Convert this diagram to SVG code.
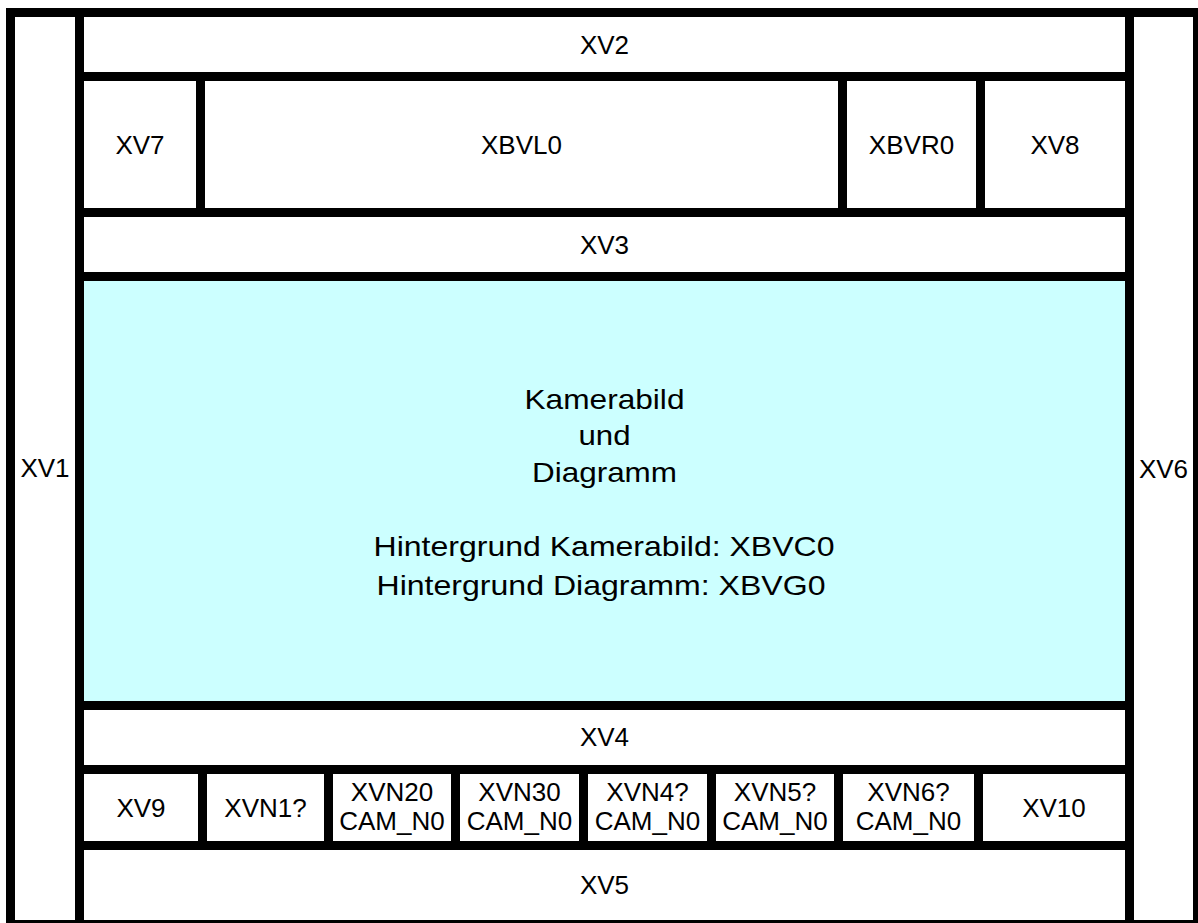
<svg xmlns="http://www.w3.org/2000/svg" width="1198" height="923" viewBox="0 0 1198 923">
<style>
.cell{fill:#ffffff;}
.cam{fill:#ccffff;}
.t{font-family:"Liberation Sans",Arial,sans-serif;font-size:26px;fill:#000;text-anchor:middle;}
.c{font-family:"Liberation Sans",Arial,sans-serif;font-size:28px;fill:#000;text-anchor:middle;}
</style>
<rect x="0" y="0" width="1198" height="923" fill="#ffffff"/>
<rect id="frame" x="6" y="8" width="1200" height="925" fill="#000000"/>
<g id="XV1"><rect class="cell" x="15" y="17" width="60" height="903"/><text class="t" x="45" y="477">XV1</text></g>
<g id="XV6"><rect class="cell" x="1134" y="17" width="59" height="903"/><text class="t" x="1163.5" y="477.5">XV6</text></g>
<g id="XV2"><rect class="cell" x="84" y="17" width="1041" height="55"/><text class="t" x="604.5" y="54">XV2</text></g>
<g id="XV7"><rect class="cell" x="84" y="81" width="112" height="127"/><text class="t" x="140" y="154">XV7</text></g>
<g id="XBVL0"><rect class="cell" x="205" y="81" width="633" height="127"/><text class="t" x="521.5" y="154">XBVL0</text></g>
<g id="XBVR0"><rect class="cell" x="847" y="81" width="129" height="127"/><text class="t" x="911.5" y="154">XBVR0</text></g>
<g id="XV8"><rect class="cell" x="985" y="81" width="140" height="127"/><text class="t" x="1055" y="154">XV8</text></g>
<g id="XV3"><rect class="cell" x="84" y="217" width="1041" height="55"/><text class="t" x="604.5" y="254">XV3</text></g>
<g id="camera"><rect class="cam" x="84" y="281" width="1041" height="420"/>
<text class="c" x="604.5" y="409" textLength="160" lengthAdjust="spacingAndGlyphs">Kamerabild</text>
<text class="c" x="604.5" y="445" textLength="52" lengthAdjust="spacingAndGlyphs">und</text>
<text class="c" x="604.5" y="482" textLength="145" lengthAdjust="spacingAndGlyphs">Diagramm</text>
<text class="c" x="604" y="556" textLength="461" lengthAdjust="spacingAndGlyphs">Hintergrund Kamerabild: XBVC0</text>
<text class="c" x="601" y="595" textLength="449" lengthAdjust="spacingAndGlyphs">Hintergrund Diagramm: XBVG0</text>
</g>
<g id="XV4"><rect class="cell" x="84" y="710" width="1041" height="55"/><text class="t" x="604.5" y="746">XV4</text></g>
<g id="XV9"><rect class="cell" x="84" y="774" width="114" height="67"/><text class="t" x="141" y="816.5">XV9</text></g>
<g id="XVN1"><rect class="cell" x="207" y="774" width="117" height="67"/><text class="t" x="265.5" y="816.5">XVN1?</text></g>
<g id="XVN20"><rect class="cell" x="333" y="774" width="118" height="67"/><text class="t" x="392" y="801">XVN20</text><text class="t" x="392" y="830">CAM_N0</text></g>
<g id="XVN30"><rect class="cell" x="460" y="774" width="119" height="67"/><text class="t" x="519.5" y="801">XVN30</text><text class="t" x="519.5" y="830">CAM_N0</text></g>
<g id="XVN4"><rect class="cell" x="588" y="774" width="119" height="67"/><text class="t" x="647.5" y="801">XVN4?</text><text class="t" x="647.5" y="830">CAM_N0</text></g>
<g id="XVN5"><rect class="cell" x="716" y="774" width="118" height="67"/><text class="t" x="775" y="801">XVN5?</text><text class="t" x="775" y="830">CAM_N0</text></g>
<g id="XVN6"><rect class="cell" x="843" y="774" width="131" height="67"/><text class="t" x="908.5" y="801">XVN6?</text><text class="t" x="908.5" y="830">CAM_N0</text></g>
<g id="XV10"><rect class="cell" x="983" y="774" width="142" height="67"/><text class="t" x="1054" y="816.5">XV10</text></g>
<g id="XV5"><rect class="cell" x="84" y="850" width="1041" height="70"/><text class="t" x="604.5" y="894">XV5</text></g>
</svg>
